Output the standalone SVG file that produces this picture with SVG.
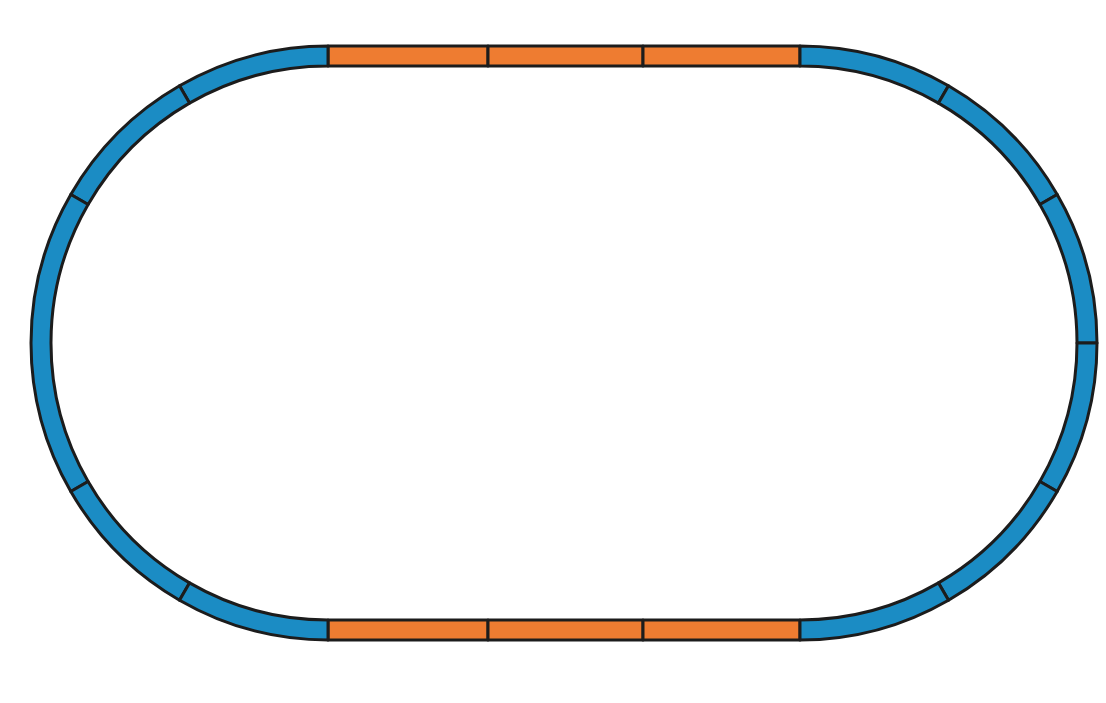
<svg xmlns="http://www.w3.org/2000/svg" width="1106" height="703" viewBox="0 0 1106 703">
<style>
.c{fill:#1b8cc4;stroke:#1c1c1c;stroke-width:3;stroke-linejoin:round}
.s{fill:#ee7c31;stroke:#1c1c1c;stroke-width:3;stroke-linejoin:round}
</style>
<rect width="1106" height="703" fill="#fff"/>
<g id="top-straights">
<rect class="s" x="328" y="46" width="160" height="20"/>
<rect class="s" x="488" y="46" width="155" height="20"/>
<rect class="s" x="643" y="46" width="157" height="20"/>
</g>
<g id="bottom-straights">
<rect class="s" x="328" y="620" width="160" height="20"/>
<rect class="s" x="488" y="620" width="155" height="20"/>
<rect class="s" x="643" y="620" width="157" height="20"/>
</g>
<g id="left-curve">
<path class="c" d="M328,46 A297,297 0 0 0 179.5,85.8 L189.5,103.1 A277,277 0 0 1 328,66 Z"/>
<path class="c" d="M179.5,85.8 A297,297 0 0 0 70.8,194.5 L88.1,204.5 A277,277 0 0 1 189.5,103.1 Z"/>
<path class="c" d="M70.8,194.5 A297,297 0 0 0 70.8,491.5 L88.1,481.5 A277,277 0 0 1 88.1,204.5 Z"/>
<path class="c" d="M70.8,491.5 A297,297 0 0 0 179.5,600.2 L189.5,582.9 A277,277 0 0 1 88.1,481.5 Z"/>
<path class="c" d="M179.5,600.2 A297,297 0 0 0 328,640 L328,620 A277,277 0 0 1 189.5,582.9 Z"/>
</g>
<g id="right-curve">
<path class="c" d="M800,46 A297,297 0 0 1 948.5,85.8 L938.5,103.1 A277,277 0 0 0 800,66 Z"/>
<path class="c" d="M948.5,85.8 A297,297 0 0 1 1057.2,194.5 L1039.9,204.5 A277,277 0 0 0 938.5,103.1 Z"/>
<path class="c" d="M1057.2,194.5 A297,297 0 0 1 1097,343 L1077,343 A277,277 0 0 0 1039.9,204.5 Z"/>
<path class="c" d="M1097,343 A297,297 0 0 1 1057.2,491.5 L1039.9,481.5 A277,277 0 0 0 1077,343 Z"/>
<path class="c" d="M1057.2,491.5 A297,297 0 0 1 948.5,600.2 L938.5,582.9 A277,277 0 0 0 1039.9,481.5 Z"/>
<path class="c" d="M948.5,600.2 A297,297 0 0 1 800,640 L800,620 A277,277 0 0 0 938.5,582.9 Z"/>
</g>
</svg>
